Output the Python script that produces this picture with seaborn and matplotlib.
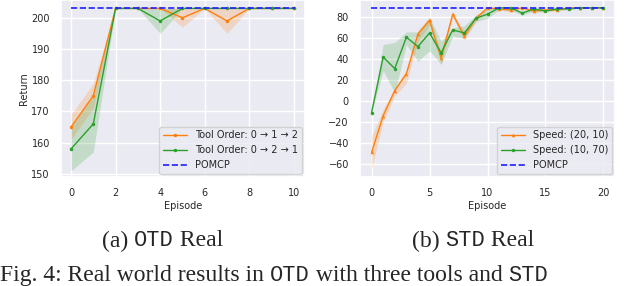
import matplotlib
matplotlib.use("Agg")
import matplotlib.pyplot as plt
import numpy as np
import pandas as pd
import seaborn as sns

# OTD real (left panel)
otd_episodes = list(range(11))
otd_order_012 = [165, 175, 203, 203, 203, 200, 203, 199, 203, 203, 203]
otd_order_012_lo = [161, 171, 203, 203, 203, 197, 203, 195, 203, 203, 203]
otd_order_012_hi = [169, 179, 203, 203, 203, 203, 203, 203, 203, 203, 203]
otd_order_021 = [158, 166, 203, 203, 199, 203, 203, 203, 203, 203, 203]
otd_order_021_lo = [151, 157, 203, 203, 195, 203, 203, 203, 203, 203, 203]
otd_order_021_hi = [165, 175, 203, 203, 203, 203, 203, 203, 203, 203, 203]
otd_pomcp = 203

# STD real (right panel)
std_episodes = list(range(21))
std_speed_20_10 = [-49, -14, 10, 26, 64, 77, 41, 83, 62, 79, 89, 88, 87, 89, 86, 87, 87, 89, 89, 89, 89]
std_speed_20_10_lo = [-65, -20, 5, 17, 57, 73, 35, 80, 58, 76, 88, 87, 85, 88, 84, 86, 86, 88, 89, 89, 89]
std_speed_20_10_hi = [-33, -8, 13, 30, 68, 80, 47, 85, 66, 82, 89, 89, 89, 89, 88, 88, 88, 89, 89, 89, 89]
std_speed_10_70 = [-11, 42, 31, 61, 52, 65, 46, 68, 65, 79, 83, 89, 89, 84, 88, 86, 88, 88, 89, 89, 89]
std_speed_10_70_lo = [-11, 29, 8, 54, 38, 48, 35, 62, 60, 76, 79, 87, 87, 82, 86, 85, 87, 87, 89, 89, 89]
std_speed_10_70_hi = [-11, 54, 56, 66, 66, 80, 57, 70, 72, 82, 88, 89, 89, 86, 89, 88, 89, 89, 89, 89, 89]
std_pomcp = 89

sns.set_theme(style="darkgrid")
plt.rcParams['font.family'] = ['DejaVu Sans']

orange = '#ff7f0e'
green = '#2ca02c'
blue = '#2020ff'

fig = plt.figure(figsize=(6.4, 2.86), dpi=100)
ax1 = fig.add_axes([61 / 640, 1 - 177 / 286, 244 / 640, 177 / 286])
ax2 = fig.add_axes([360 / 640, 1 - 177 / 286, 255 / 640, 177 / 286])

# left panel
otd = pd.DataFrame({'Episode': otd_episodes, 'a': otd_order_012, 'b': otd_order_021})
sns.lineplot(data=otd, x='Episode', y='a', ax=ax1, color=orange, marker='o', markersize=2.5,
             markeredgewidth=0, lw=1, label='Tool Order: 0 \u2192 1 \u2192 2')
sns.lineplot(data=otd, x='Episode', y='b', ax=ax1, color=green, marker='o', markersize=2.5,
             markeredgewidth=0, lw=1, label='Tool Order: 0 \u2192 2 \u2192 1')
ax1.fill_between(otd_episodes, otd_order_012_lo, otd_order_012_hi, color=orange, alpha=0.2, lw=0)
ax1.fill_between(otd_episodes, otd_order_021_lo, otd_order_021_hi, color=green, alpha=0.2, lw=0)
ax1.axhline(otd_pomcp, xmin=0.04, xmax=0.96, color=blue, ls='--', lw=1.2, label='POMCP')
ax1.set_ylim(149, 205.7)
ax1.set_xlim(-0.45, 10.5)
ax1.set_xticks([0, 2, 4, 6, 8, 10])
ax1.set_yticks([150, 160, 170, 180, 190, 200])
ax1.set_ylabel('Return', fontsize=7, labelpad=2)
ax1.set_xlabel('Episode', fontsize=7, labelpad=2)
ax1.tick_params(labelsize=7, pad=2)
ax1.legend(loc='lower right', fontsize=7, handlelength=2.5, borderaxespad=0.3)

# right panel
std = pd.DataFrame({'Episode': std_episodes, 'a': std_speed_20_10, 'b': std_speed_10_70})
sns.lineplot(data=std, x='Episode', y='a', ax=ax2, color=orange, marker='^', markersize=2.5,
             markeredgewidth=0, lw=1, label='Speed: (20, 10)')
sns.lineplot(data=std, x='Episode', y='b', ax=ax2, color=green, marker='o', markersize=2.5,
             markeredgewidth=0, lw=1, label='Speed: (10, 70)')
ax2.fill_between(std_episodes, std_speed_20_10_lo, std_speed_20_10_hi, color=orange, alpha=0.2, lw=0)
ax2.fill_between(std_episodes, std_speed_10_70_lo, std_speed_10_70_hi, color=green, alpha=0.2, lw=0)
ax2.axhline(std_pomcp, xmin=0.045, xmax=0.955, color=blue, ls='--', lw=1.2, label='POMCP')
ax2.set_ylim(-72.5, 96.5)
ax2.set_xlim(-1, 21)
ax2.set_xticks([0, 5, 10, 15, 20])
ax2.set_yticks([-60, -40, -20, 0, 20, 40, 60, 80])
ax2.set_ylabel('')
ax2.set_xlabel('Episode', fontsize=7, labelpad=2)
ax2.tick_params(labelsize=7, pad=2)
ax2.legend(loc='lower right', fontsize=7, handlelength=2.5, borderaxespad=0.3)


# captions: mixed serif / monospace runs placed one after another
renderer = fig.canvas.get_renderer()


def text_run(x_px, y_px, parts, size, va):
    x = x_px
    for s, fam in parts:
        fs = size if fam == 'Liberation Serif' else size * 0.93
        t = fig.text(x / 640, 1 - y_px / 286, s, fontsize=fs, family=fam, va=va, ha='left')
        x = t.get_window_extent(renderer).x1
    return x


serif, mono = 'Liberation Serif', 'Liberation Mono'
text_run(102, 241, [('(a) ', serif), ('OTD', mono), (' Real', serif)], 17, 'center')
text_run(412, 241, [('(b) ', serif), ('STD', mono), (' Real', serif)], 17, 'center')
text_run(0, 286, [('Fig. 4: Real world results in ', serif), ('OTD', mono),
                  (' with three tools and ', serif), ('STD', mono)], 17, 'bottom')

fig.savefig('out.png', dpi=100)
